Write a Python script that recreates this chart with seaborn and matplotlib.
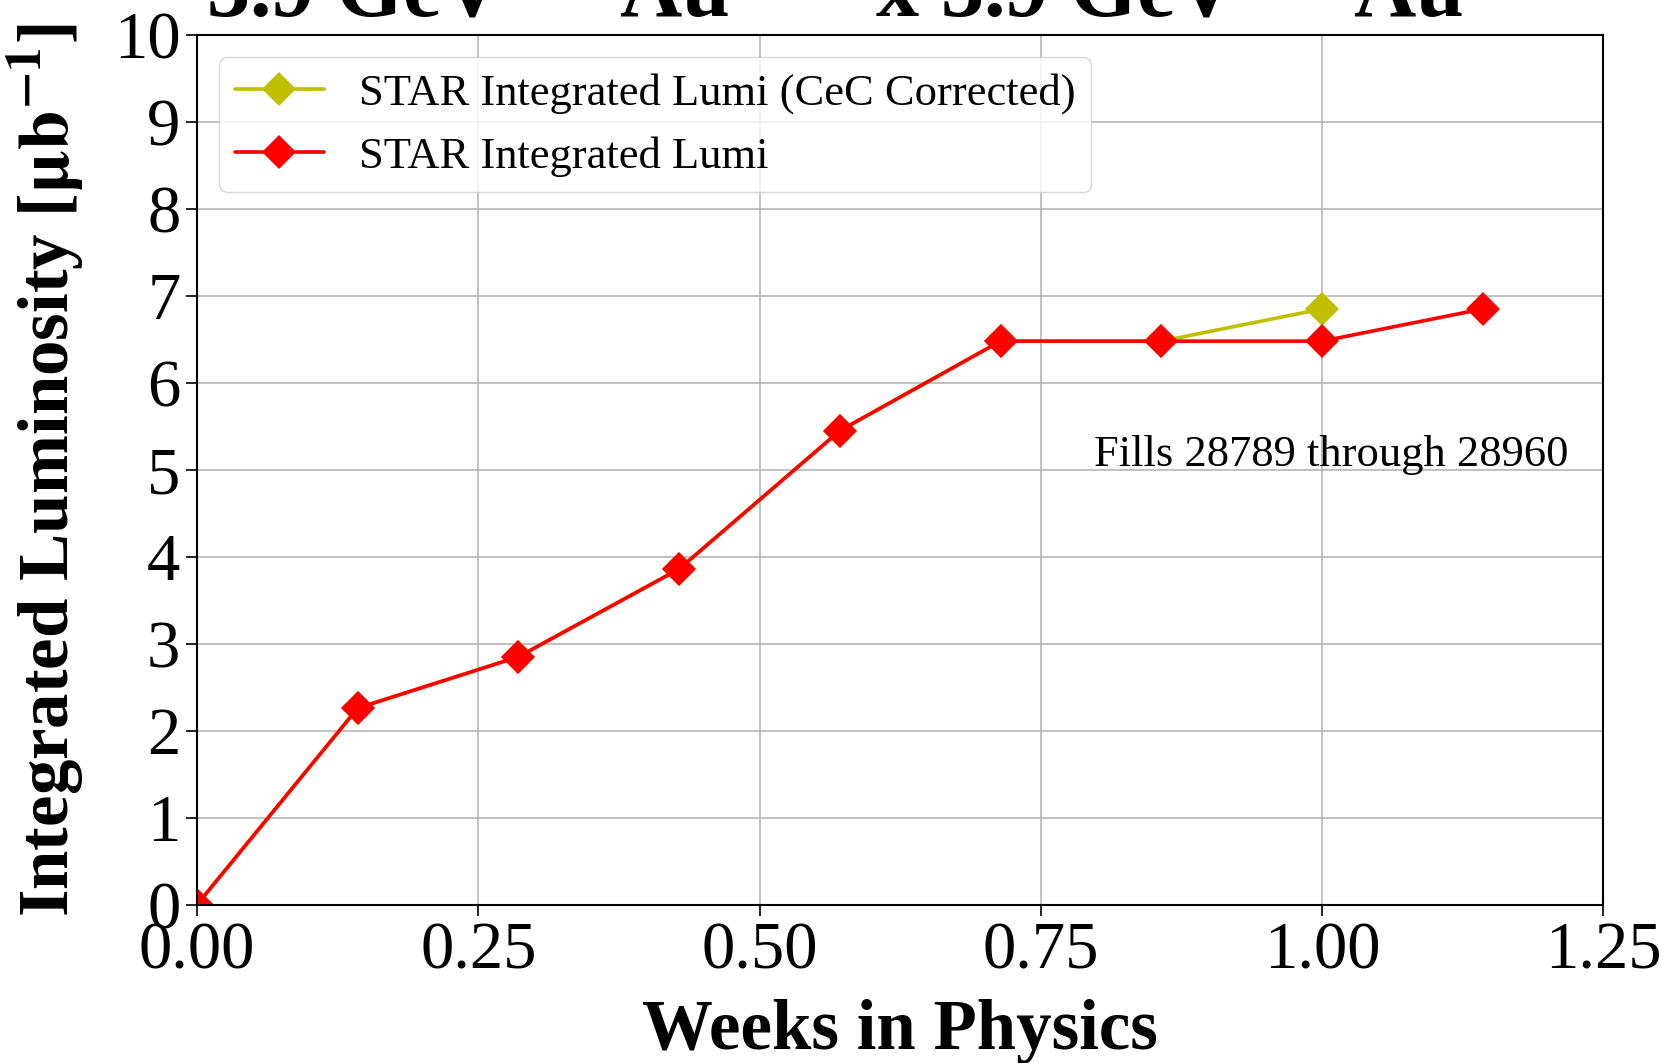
import numpy as np
import pandas as pd
import matplotlib
matplotlib.use('Agg')
import matplotlib.pyplot as plt
import seaborn as sns

# weeks in physics (one point per day)
weeks = [0, 1/7, 2/7, 3/7, 4/7, 5/7, 6/7, 1.0, 8/7]
lumi = [0.0, 2.26, 2.85, 3.86, 5.45, 6.48, 6.48, 6.48, 6.85]

weeks_cec = [0, 1/7, 2/7, 3/7, 4/7, 5/7, 6/7, 1.0]
lumi_cec = [0.0, 2.26, 2.85, 3.86, 5.45, 6.48, 6.48, 6.85]

fill_note = 'Fills 28789 through 28960'
title_txt = r'3.9 GeV $^{197}$Au$^{79+}$ x 3.9 GeV $^{197}$Au$^{79+}$'

sns.set_theme(style="ticks")
plt.rcParams['font.family'] = ['Liberation Serif', 'DejaVu Serif']
plt.rcParams['mathtext.fontset'] = 'stix'
plt.rcParams['text.color'] = 'black'
plt.rcParams['axes.labelcolor'] = 'black'
plt.rcParams['xtick.color'] = 'black'
plt.rcParams['ytick.color'] = 'black'

df = pd.DataFrame({'weeks': weeks, 'lumi': lumi})
df_cec = pd.DataFrame({'weeks': weeks_cec, 'lumi': lumi_cec})

fig = plt.figure(figsize=(16.7, 10.63), dpi=100)
ax = fig.add_axes([0.118, 0.149, 0.842, 0.818])

sns.lineplot(data=df_cec, x='weeks', y='lumi', color='#bfbf00', marker='D', markersize=17,
             markeredgewidth=0, linewidth=2.6, label='STAR Integrated Lumi (CeC Corrected)', ax=ax)
sns.lineplot(data=df, x='weeks', y='lumi', color='#ff0000', marker='D', markersize=17,
             markeredgewidth=0, linewidth=2.6, label='STAR Integrated Lumi', ax=ax)

ax.set_xlim(0, 1.25)
ax.set_ylim(0, 10)
ax.set_xticks([0, 0.25, 0.5, 0.75, 1.0, 1.25])
ax.set_xticklabels(['0.00', '0.25', '0.50', '0.75', '1.00', '1.25'])
ax.set_yticks(range(0, 11))
ax.grid(True, color='#b0b0b0', linewidth=1.1)
ax.tick_params(labelsize=48, length=8, width=1.2, color='black', pad=4)
for s in ax.spines.values():
    s.set_color('black')
    s.set_linewidth(1.5)

ax.set_xlabel('Weeks in Physics', fontsize=51, fontweight='bold', labelpad=12)
ax.set_ylabel(r'Integrated Luminosity [$\mathbf{\mu b^{-1}}$]', fontsize=51, fontweight='bold')
ax.yaxis.set_label_coords(-0.079, 0.5)

ax.text(1.008, 5.17, fill_note, fontsize=32, ha='center', va='center')

ax.legend(loc='upper left', fontsize=32, frameon=True, edgecolor='#cccccc',
          handlelength=2.0, borderpad=0.35, labelspacing=0.5, handletextpad=0.8)

fig.text(0.533, 0.984, title_txt, fontsize=62, fontweight='bold', ha='center', va='baseline')

fig.savefig('out.png', dpi=100)
